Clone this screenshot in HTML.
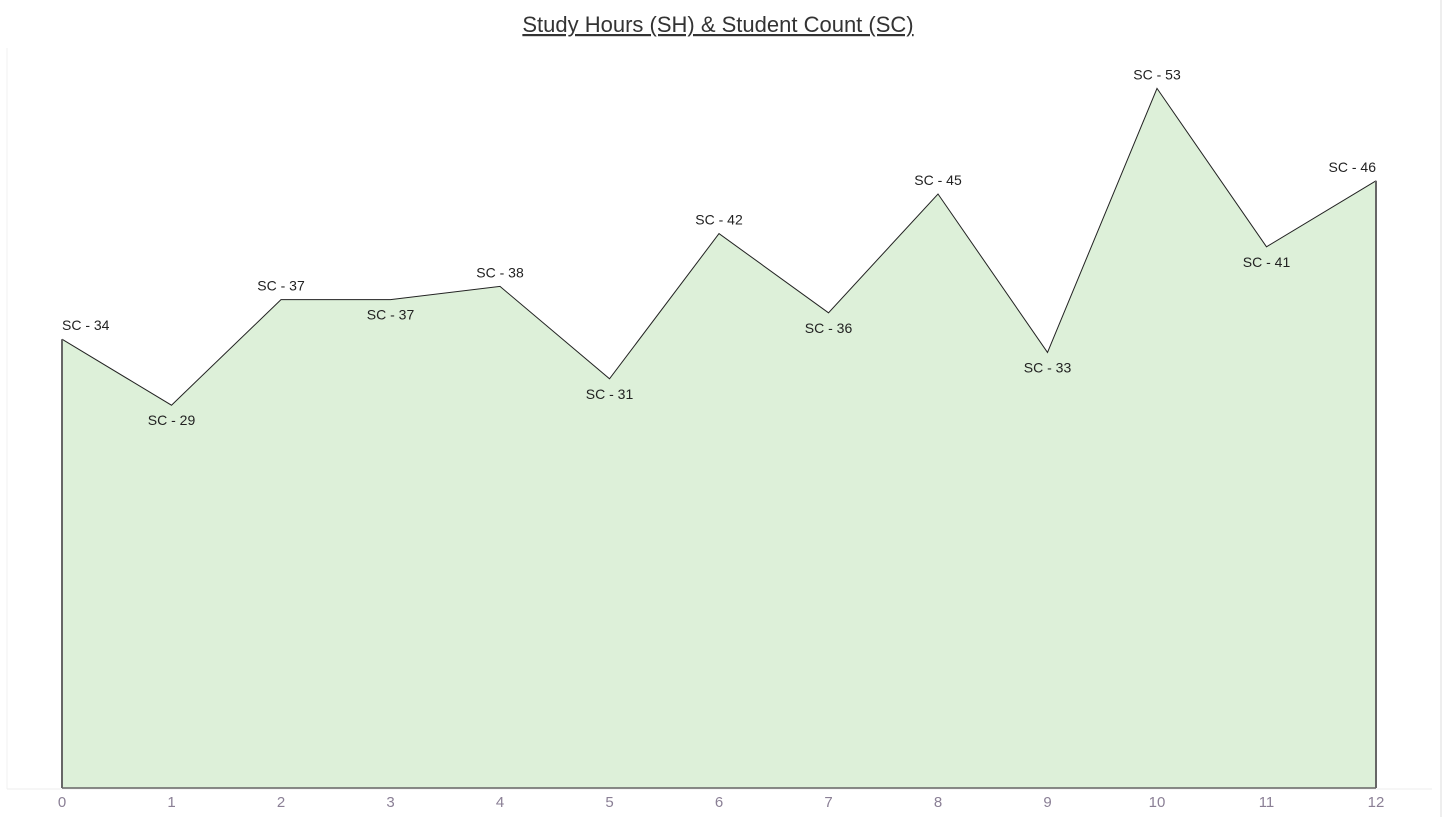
<!DOCTYPE html>
<html><head><meta charset="utf-8"><style>
body{margin:0;background:#fff;width:1442px;height:817px;overflow:hidden;font-family:"Liberation Sans",sans-serif}
</style></head><body>
<svg width="1442" height="817">
<text x="718" y="32" text-anchor="middle" font-size="22" fill="#333" text-decoration="underline">Study Hours (SH) &amp; Student Count (SC)</text>
<line x1="7" y1="48" x2="7" y2="789" stroke="#f0f0f0"/>
<line x1="1441" y1="0" x2="1441" y2="817" stroke="#ddd"/>
<line x1="7" y1="789" x2="1432" y2="789" stroke="#eee"/>
<g id="g"></g>
</svg>
<script>
const hours=[0,1,2,3,4,5,6,7,8,9,10,11,12];
const counts=[34,29,37,37,38,31,42,36,45,33,53,41,46];
const labelAbove=[1,0,1,0,1,0,1,0,1,0,1,0,1];
const xs=h=>62+h*109.5, ys=v=>788-v*13.2;
const g=document.getElementById('g'),NS='http://www.w3.org/2000/svg';
function mk(t,a){const e=document.createElementNS(NS,t);for(const k in a)e.setAttribute(k,a[k]);g.appendChild(e);return e;}
let pts=hours.map((h,i)=>xs(h)+','+ys(counts[i])).join(' ');
const area=mk('polygon',{points:xs(hours[0])+','+ys(0)+' '+pts+' '+xs(hours[hours.length-1])+','+ys(0),fill:'#ddf0d9',stroke:'none'});


const line=mk('polyline',{points:pts,fill:'none',stroke:'#222','stroke-width':1});


[0,hours.length-1].forEach(i=>{
const e=mk('line',{x1:xs(hours[i]),x2:xs(hours[i]),y1:ys(counts[i]),y2:ys(0),stroke:'#666','stroke-width':2});


});
const b=mk('line',{x1:xs(0),x2:xs(12),y1:ys(0),y2:ys(0),stroke:'#666','stroke-width':1.5});


hours.forEach((h,i)=>{
const y=ys(counts[i]);
const anchor=i===0?'start':(i===hours.length-1?'end':'middle');
const t=mk('text',{x:xs(h),y:labelAbove[i]?y-9:y+20,'text-anchor':anchor,'font-size':14,fill:'#222'});
t.textContent='SC - '+counts[i];


const k=mk('text',{x:xs(h),y:807,'text-anchor':'middle','font-size':15,fill:'#8a7f95'});
k.textContent=h;


});
</script>
</body></html>
